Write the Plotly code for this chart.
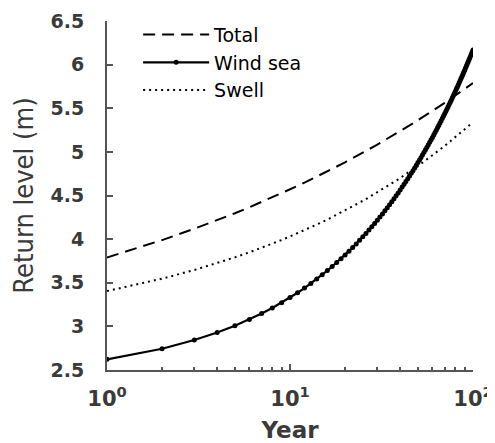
import plotly.graph_objects as go

years = list(range(1, 101))

wind_sea = [2.622,2.744,2.843,2.929,3.008,3.08,3.147,3.211,3.272,3.33,
            3.386,3.439,3.492,3.542,3.591,3.639,3.686,3.731,3.776,3.819,
            3.862,3.904,3.945,3.986,4.026,4.065,4.104,4.142,4.179,4.216,
            4.253,4.289,4.325,4.36,4.395,4.429,4.463,4.497,4.53,4.563,
            4.596,4.628,4.66,4.692,4.723,4.754,4.785,4.816,4.846,4.877,
            4.906,4.936,4.966,4.995,5.024,5.053,5.081,5.11,5.138,5.166,
            5.194,5.221,5.249,5.276,5.303,5.33,5.357,5.384,5.41,5.437,
            5.463,5.489,5.515,5.541,5.566,5.592,5.617,5.642,5.668,5.693,
            5.717,5.742,5.767,5.791,5.816,5.84,5.864,5.888,5.912,5.936,
            5.96,5.983,6.007,6.03,6.054,6.077,6.1,6.123,6.146,6.169]

total = [3.79,3.989,4.119,4.217,4.297,4.365,4.425,4.478,4.526,4.569,
         4.61,4.647,4.682,4.715,4.747,4.776,4.804,4.831,4.856,4.881,
         4.904,4.927,4.949,4.97,4.99,5.01,5.029,5.048,5.066,5.084,
         5.101,5.117,5.134,5.149,5.165,5.18,5.195,5.209,5.223,5.237,
         5.251,5.264,5.277,5.29,5.303,5.315,5.327,5.339,5.351,5.363,
         5.374,5.385,5.396,5.407,5.418,5.428,5.439,5.449,5.459,5.469,
         5.479,5.489,5.498,5.508,5.517,5.526,5.535,5.544,5.553,5.562,
         5.571,5.579,5.588,5.596,5.605,5.613,5.621,5.629,5.637,5.645,
         5.653,5.66,5.668,5.676,5.683,5.691,5.698,5.705,5.713,5.72,
         5.727,5.734,5.741,5.748,5.755,5.762,5.768,5.775,5.782,5.788]

swell = [3.405,3.547,3.646,3.725,3.791,3.849,3.9,3.947,3.99,4.03,
         4.067,4.102,4.135,4.166,4.196,4.224,4.252,4.278,4.303,4.328,
         4.351,4.374,4.396,4.418,4.439,4.459,4.479,4.498,4.517,4.536,
         4.554,4.571,4.588,4.605,4.622,4.638,4.654,4.67,4.685,4.7,
         4.715,4.73,4.744,4.758,4.772,4.786,4.799,4.813,4.826,4.839,
         4.852,4.864,4.877,4.889,4.901,4.913,4.925,4.937,4.948,4.96,
         4.971,4.982,4.993,5.004,5.015,5.026,5.037,5.047,5.057,5.068,
         5.078,5.088,5.098,5.108,5.118,5.128,5.137,5.147,5.156,5.166,
         5.175,5.184,5.193,5.203,5.212,5.221,5.229,5.238,5.247,5.256,
         5.264,5.273,5.281,5.29,5.298,5.306,5.315,5.323,5.331,5.339]

x_tickvals = [1, 10, 100]
x_ticktext = ["10<sup>0</sup>", "10<sup>1</sup>", "10<sup>2</sup>"]
x_minor = [2, 3, 4, 5, 6, 7, 8, 9, 20, 30, 40, 50, 60, 70, 80, 90]
y_tickvals = [2.5, 3, 3.5, 4, 4.5, 5, 5.5, 6, 6.5]
y_ticktext = ["2.5", "3", "3.5", "4", "4.5", "5", "5.5", "6", "6.5"]

AX = "#555555"
TXT = "#3a3a3a"

fig = go.Figure()
fig.add_trace(go.Scatter(x=years, y=total, mode="lines", name="Total",
                         line=dict(color="black", width=2, dash="12px,7px")))
fig.add_trace(go.Scatter(x=years, y=wind_sea, mode="lines+markers", name="Wind sea",
                         line=dict(color="black", width=2.2),
                         marker=dict(color="black", size=5)))
fig.add_trace(go.Scatter(x=years, y=swell, mode="lines", name="Swell",
                         line=dict(color="black", width=2, dash="2px,4px")))

# the page body has an 8px margin, so the figure is sized to fit the 495x443 window
fig.update_layout(
    width=487, height=435,
    margin=dict(l=99, r=22, t=13, b=73, autoexpand=False),
    paper_bgcolor="white", plot_bgcolor="white",
    font=dict(family="DejaVu Sans", color=TXT, size=17),
    legend=dict(x=0.085, y=1.015, xanchor="left", yanchor="top",
                bgcolor="rgba(0,0,0,0)", borderwidth=0,
                font=dict(family="DejaVu Sans", size=19, color="black"),
                itemwidth=66, tracegroupgap=0),
    showlegend=True,
)
fig.update_xaxes(
    type="log", range=[0, 2], automargin=False,
    tickvals=x_tickvals, ticktext=x_ticktext,
    ticks="inside", ticklen=6, tickwidth=1.5, tickcolor=AX,
    showline=True, linecolor=AX, linewidth=2,
    showgrid=False, zeroline=False,
    tickfont=dict(family="DejaVu Sans", size=21, color=TXT, weight="bold"),
    ticklabelstandoff=9,
    minor=dict(tickvals=x_minor, ticks="inside", ticklen=3, tickwidth=1.5, tickcolor=AX, showgrid=False),
    title=dict(text="Year", font=dict(family="DejaVu Sans", size=23, color=TXT, weight="bold"), standoff=23),
)
fig.update_yaxes(
    range=[2.5, 6.5], automargin=False,
    tickvals=y_tickvals, ticktext=y_ticktext,
    ticks="inside", ticklen=6, tickwidth=1.5, tickcolor=AX,
    showline=True, linecolor=AX, linewidth=2,
    showgrid=False, zeroline=False,
    tickfont=dict(family="DejaVu Sans", size=19, color=TXT, weight="bold"),
    ticklabelstandoff=17,
    title=dict(text="Return level (m)", font=dict(family="DejaVu Sans Condensed, DejaVu Sans", size=27, color=TXT), standoff=11),
)

fig.write_html("out.html")
